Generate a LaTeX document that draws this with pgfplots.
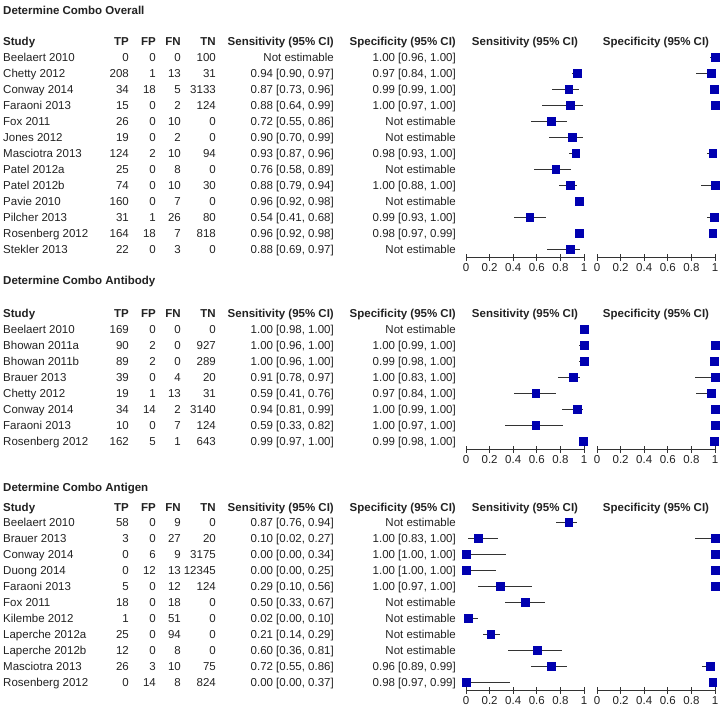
\documentclass[border=0pt]{standalone}
\usepackage{fontspec}
\setmainfont{Liberation Sans}
\usepackage{pgfplots}
\usepackage{pgfplotstable}
\pgfplotsset{compat=1.18}

\definecolor{txt}{HTML}{222222}
\definecolor{mk}{HTML}{0000B0}
\definecolor{ci}{HTML}{333333}

% k = row index, v = estimate, lo/hi = 95% CI
\pgfplotstableread{
k v lo hi
1 0.94 0.90 0.97
2 0.87 0.73 0.96
3 0.88 0.64 0.99
4 0.72 0.55 0.86
5 0.90 0.70 0.99
6 0.93 0.87 0.96
7 0.76 0.58 0.89
8 0.88 0.79 0.94
9 0.96 0.92 0.98
10 0.54 0.41 0.68
11 0.96 0.92 0.98
12 0.88 0.69 0.97
}\ovsens
\pgfplotstableread{
k v lo hi
0 1.00 0.96 1.00
1 0.97 0.84 1.00
2 0.99 0.99 1.00
3 1.00 0.97 1.00
6 0.98 0.93 1.00
8 1.00 0.88 1.00
10 0.99 0.93 1.00
11 0.98 0.97 0.99
}\ovspec
\pgfplotstableread{
k v lo hi
0 1.00 0.98 1.00
1 1.00 0.96 1.00
2 1.00 0.96 1.00
3 0.91 0.78 0.97
4 0.59 0.41 0.76
5 0.94 0.81 0.99
6 0.59 0.33 0.82
7 0.99 0.97 1.00
}\absens
\pgfplotstableread{
k v lo hi
1 1.00 0.99 1.00
2 0.99 0.98 1.00
3 1.00 0.83 1.00
4 0.97 0.84 1.00
5 1.00 0.99 1.00
6 1.00 0.97 1.00
7 0.99 0.98 1.00
}\abspec
\pgfplotstableread{
k v lo hi
0 0.87 0.76 0.94
1 0.10 0.02 0.27
2 0.00 0.00 0.34
3 0.00 0.00 0.25
4 0.29 0.10 0.56
5 0.50 0.33 0.67
6 0.02 0.00 0.10
7 0.21 0.14 0.29
8 0.60 0.36 0.81
9 0.72 0.55 0.86
10 0.00 0.00 0.37
}\agsens
\pgfplotstableread{
k v lo hi
1 1.00 0.83 1.00
2 1.00 1.00 1.00
3 1.00 1.00 1.00
4 1.00 0.97 1.00
9 0.96 0.89 0.99
10 0.98 0.97 0.99
}\agspec

\newcommand\tx{\fontsize{11.5}{13}\selectfont}

\pgfplotsset{
  fp/.style={
    scale only axis, width=118pt,
    xmin=0, xmax=1, enlargelimits=false, clip=false,
    axis x line=bottom, axis y line=none,
    axis line style={-, ci, line width=0.8pt},
    xtick={0,0.2,0.4,0.6,0.8,1},
    xticklabels={0,0.2,0.4,0.6,0.8,1},
    tick align=center, major tick length=7pt,
    xtick style={ci, line width=0.8pt},
    tick label style={font=\tx, text=txt},
    xticklabel style={yshift=-2.5pt},
  },
  ci plot/.style={
    only marks, mark=square*, mark size=3.9pt,
    mark options={fill=mk, draw=mk},
    error bars/.cd, x dir=both, x explicit, error mark=none,
    error bar style={ci, line width=0.9pt},
  },
}
\newcommand\ciplot[1]{%
  \addplot[ci plot] table[x=v, y expr=-\thisrow{k},
    x error plus expr=\thisrow{hi}-\thisrow{v},
    x error minus expr=\thisrow{v}-\thisrow{lo}] {#1};}

% row: pixel y, study, TP, FP, FN, TN, sensitivity, specificity
\newcommand\rw[8]{%
  \node[anchor=base west] at (3pt,{-(#1+4)*1pt}) {#2};
  \node[anchor=base east] at (129pt,{-(#1+4)*1pt}) {#3};
  \node[anchor=base east] at (156pt,{-(#1+4)*1pt}) {#4};
  \node[anchor=base east] at (181pt,{-(#1+4)*1pt}) {#5};
  \node[anchor=base east] at (216pt,{-(#1+4)*1pt}) {#6};
  \node[anchor=base east] at (334pt,{-(#1+4)*1pt}) {#7};
  \node[anchor=base east] at (456pt,{-(#1+4)*1pt}) {#8};}
\newcommand\hd[2]{%
  \node[anchor=base west] at (3pt,{-(#1+4)*1pt}) {\bfseries #2};}
\newcommand\colhd[1]{%
  \begin{scope}[every node/.append style={font=\tx\bfseries}]
  \rw{#1}{Study}{TP}{FP}{FN}{TN}{Sensitivity (95\% CI)}{Specificity (95\% CI)}
  \node[anchor=base] at (525pt,{-(#1+4)*1pt}) {Sensitivity (95\% CI)};
  \node[anchor=base] at (656pt,{-(#1+4)*1pt}) {Specificity (95\% CI)};
  \end{scope}}

\begin{document}
\begin{tikzpicture}[every node/.style={inner sep=0pt, font=\tx, text=txt}]
\path (0,0) rectangle (723pt,-707pt);

% ---------- Overall ----------
\hd{10}{Determine Combo Overall}
\colhd{41}
\rw{57}{Beelaert 2010}{0}{0}{0}{100}{Not estimable}{1.00 [0.96, 1.00]}
\rw{73}{Chetty 2012}{208}{1}{13}{31}{0.94 [0.90, 0.97]}{0.97 [0.84, 1.00]}
\rw{89}{Conway 2014}{34}{18}{5}{3133}{0.87 [0.73, 0.96]}{0.99 [0.99, 1.00]}
\rw{105}{Faraoni 2013}{15}{0}{2}{124}{0.88 [0.64, 0.99]}{1.00 [0.97, 1.00]}
\rw{121}{Fox 2011}{26}{0}{10}{0}{0.72 [0.55, 0.86]}{Not estimable}
\rw{137}{Jones 2012}{19}{0}{2}{0}{0.90 [0.70, 0.99]}{Not estimable}
\rw{153}{Masciotra 2013}{124}{2}{10}{94}{0.93 [0.87, 0.96]}{0.98 [0.93, 1.00]}
\rw{169}{Patel 2012a}{25}{0}{8}{0}{0.76 [0.58, 0.89]}{Not estimable}
\rw{185}{Patel 2012b}{74}{0}{10}{30}{0.88 [0.79, 0.94]}{1.00 [0.88, 1.00]}
\rw{201}{Pavie 2010}{160}{0}{7}{0}{0.96 [0.92, 0.98]}{Not estimable}
\rw{217}{Pilcher 2013}{31}{1}{26}{80}{0.54 [0.41, 0.68]}{0.99 [0.93, 1.00]}
\rw{233}{Rosenberg 2012}{164}{18}{7}{818}{0.96 [0.92, 0.98]}{0.98 [0.97, 0.99]}
\rw{249}{Stekler 2013}{22}{0}{3}{0}{0.88 [0.69, 0.97]}{Not estimable}

\begin{axis}[fp, at={(466pt,-257pt)}, anchor=south west, height=208pt, ymin=-12.5, ymax=0.5]
\ciplot{\ovsens}
\end{axis}
\begin{axis}[fp, at={(597pt,-257pt)}, anchor=south west, height=208pt, ymin=-12.5, ymax=0.5]
\ciplot{\ovspec}
\end{axis}

% ---------- Antibody ----------
\hd{280}{Determine Combo Antibody}
\colhd{313}
\rw{329}{Beelaert 2010}{169}{0}{0}{0}{1.00 [0.98, 1.00]}{Not estimable}
\rw{345}{Bhowan 2011a}{90}{2}{0}{927}{1.00 [0.96, 1.00]}{1.00 [0.99, 1.00]}
\rw{361}{Bhowan 2011b}{89}{2}{0}{289}{1.00 [0.96, 1.00]}{0.99 [0.98, 1.00]}
\rw{377}{Brauer 2013}{39}{0}{4}{20}{0.91 [0.78, 0.97]}{1.00 [0.83, 1.00]}
\rw{393}{Chetty 2012}{19}{1}{13}{31}{0.59 [0.41, 0.76]}{0.97 [0.84, 1.00]}
\rw{409}{Conway 2014}{34}{14}{2}{3140}{0.94 [0.81, 0.99]}{1.00 [0.99, 1.00]}
\rw{425}{Faraoni 2013}{10}{0}{7}{124}{0.59 [0.33, 0.82]}{1.00 [0.97, 1.00]}
\rw{441}{Rosenberg 2012}{162}{5}{1}{643}{0.99 [0.97, 1.00]}{0.99 [0.98, 1.00]}

\begin{axis}[fp, at={(466pt,-449pt)}, anchor=south west, height=128pt, ymin=-7.5, ymax=0.5]
\ciplot{\absens}
\end{axis}
\begin{axis}[fp, at={(597pt,-449pt)}, anchor=south west, height=128pt, ymin=-7.5, ymax=0.5]
\ciplot{\abspec}
\end{axis}

% ---------- Antigen ----------
\hd{487}{Determine Combo Antigen}
\colhd{507}
\rw{522}{Beelaert 2010}{58}{0}{9}{0}{0.87 [0.76, 0.94]}{Not estimable}
\rw{538}{Brauer 2013}{3}{0}{27}{20}{0.10 [0.02, 0.27]}{1.00 [0.83, 1.00]}
\rw{554}{Conway 2014}{0}{6}{9}{3175}{0.00 [0.00, 0.34]}{1.00 [1.00, 1.00]}
\rw{570}{Duong 2014}{0}{12}{13}{12345}{0.00 [0.00, 0.25]}{1.00 [1.00, 1.00]}
\rw{586}{Faraoni 2013}{5}{0}{12}{124}{0.29 [0.10, 0.56]}{1.00 [0.97, 1.00]}
\rw{602}{Fox 2011}{18}{0}{18}{0}{0.50 [0.33, 0.67]}{Not estimable}
\rw{618}{Kilembe 2012}{1}{0}{51}{0}{0.02 [0.00, 0.10]}{Not estimable}
\rw{634}{Laperche 2012a}{25}{0}{94}{0}{0.21 [0.14, 0.29]}{Not estimable}
\rw{650}{Laperche 2012b}{12}{0}{8}{0}{0.60 [0.36, 0.81]}{Not estimable}
\rw{666}{Masciotra 2013}{26}{3}{10}{75}{0.72 [0.55, 0.86]}{0.96 [0.89, 0.99]}
\rw{682}{Rosenberg 2012}{0}{14}{8}{824}{0.00 [0.00, 0.37]}{0.98 [0.97, 0.99]}

\begin{axis}[fp, at={(466pt,-690pt)}, anchor=south west, height=176pt, ymin=-10.5, ymax=0.5]
\ciplot{\agsens}
\end{axis}
\begin{axis}[fp, at={(597pt,-690pt)}, anchor=south west, height=176pt, ymin=-10.5, ymax=0.5]
\ciplot{\agspec}
\end{axis}
\end{tikzpicture}
\end{document}
